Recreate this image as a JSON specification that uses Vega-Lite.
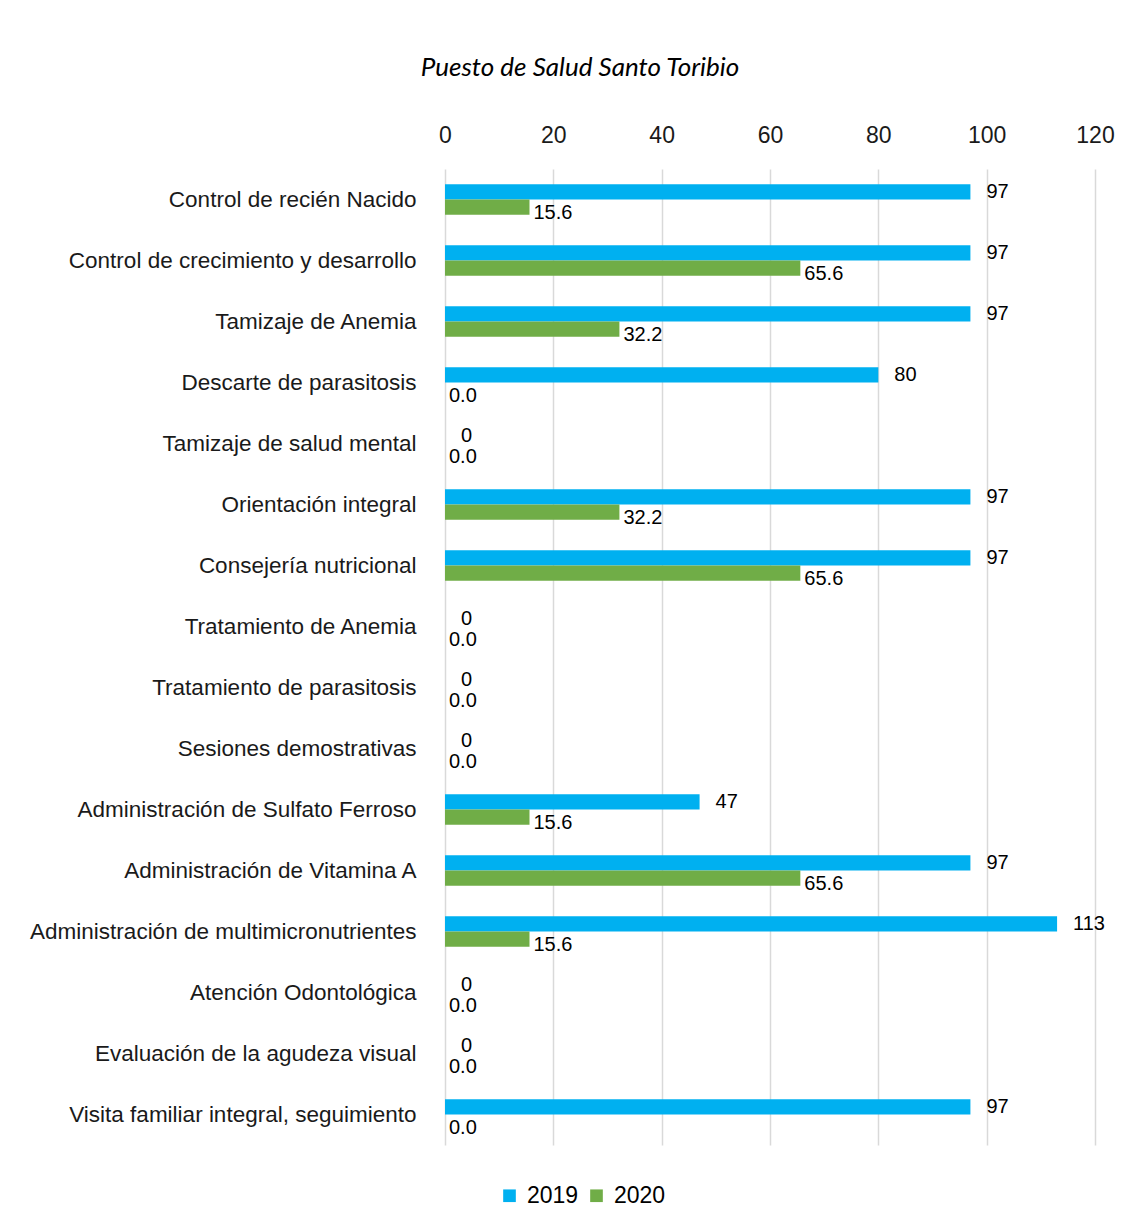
{
  "$schema": "https://vega.github.io/schema/vega-lite/v6.json",
  "autosize": {"type": "none"},
  "width": 650,
  "height": 976,
  "padding": {"left": 445, "top": 169, "right": 32, "bottom": 82},
  "background": "white",
  "title": {
    "text": "Puesto de Salud Santo Toribio",
    "font": "Lato",
    "fontStyle": "italic",
    "fontWeight": "normal",
    "fontSize": 26,
    "color": "#000000",
    "anchor": "middle",
    "dx": -190,
    "offset": 43
  },
  "datasets": {
    "rows": [
      {"actividad": "Control de recién Nacido", "year": "2019", "value": 97},
      {"actividad": "Control de recién Nacido", "year": "2020", "value": 15.6},
      {"actividad": "Control de crecimiento y desarrollo", "year": "2019", "value": 97},
      {"actividad": "Control de crecimiento y desarrollo", "year": "2020", "value": 65.6},
      {"actividad": "Tamizaje de Anemia", "year": "2019", "value": 97},
      {"actividad": "Tamizaje de Anemia", "year": "2020", "value": 32.2},
      {"actividad": "Descarte de parasitosis", "year": "2019", "value": 80},
      {"actividad": "Descarte de parasitosis", "year": "2020", "value": 0},
      {"actividad": "Tamizaje de salud mental", "year": "2019", "value": 0},
      {"actividad": "Tamizaje de salud mental", "year": "2020", "value": 0},
      {"actividad": "Orientación integral", "year": "2019", "value": 97},
      {"actividad": "Orientación integral", "year": "2020", "value": 32.2},
      {"actividad": "Consejería nutricional", "year": "2019", "value": 97},
      {"actividad": "Consejería nutricional", "year": "2020", "value": 65.6},
      {"actividad": "Tratamiento de Anemia", "year": "2019", "value": 0},
      {"actividad": "Tratamiento de Anemia", "year": "2020", "value": 0},
      {"actividad": "Tratamiento de parasitosis", "year": "2019", "value": 0},
      {"actividad": "Tratamiento de parasitosis", "year": "2020", "value": 0},
      {"actividad": "Sesiones demostrativas", "year": "2019", "value": 0},
      {"actividad": "Sesiones demostrativas", "year": "2020", "value": 0},
      {"actividad": "Administración de Sulfato Ferroso", "year": "2019", "value": 47},
      {"actividad": "Administración de Sulfato Ferroso", "year": "2020", "value": 15.6},
      {"actividad": "Administración de Vitamina A", "year": "2019", "value": 97},
      {"actividad": "Administración de Vitamina A", "year": "2020", "value": 65.6},
      {"actividad": "Administración de multimicronutrientes", "year": "2019", "value": 113},
      {"actividad": "Administración de multimicronutrientes", "year": "2020", "value": 15.6},
      {"actividad": "Atención Odontológica", "year": "2019", "value": 0},
      {"actividad": "Atención Odontológica", "year": "2020", "value": 0},
      {"actividad": "Evaluación de la agudeza visual", "year": "2019", "value": 0},
      {"actividad": "Evaluación de la agudeza visual", "year": "2020", "value": 0},
      {"actividad": "Visita familiar integral, seguimiento", "year": "2019", "value": 97},
      {"actividad": "Visita familiar integral, seguimiento", "year": "2020", "value": 0}
    ]
  },
  "data": {"name": "rows"},
  "encoding": {
    "y": {
      "field": "actividad",
      "type": "nominal",
      "sort": null,
      "scale": {"paddingInner": 0.5, "paddingOuter": 0.25},
      "axis": {
        "title": null,
        "domain": false,
        "ticks": false,
        "labelPadding": 29,
        "labelFont": "Liberation Sans",
        "labelFontSize": 22.5,
        "labelColor": "#1a1a1a",
        "labelLimit": 500
      }
    },
    "yOffset": {"field": "year", "type": "nominal", "scale": {"paddingInner": 0, "paddingOuter": 0}},
    "x": {
      "field": "value",
      "type": "quantitative",
      "scale": {"domain": [0, 120], "nice": false},
      "axis": {
        "orient": "top",
        "title": null,
        "values": [0, 20, 40, 60, 80, 100, 120],
        "domain": false,
        "ticks": false,
        "labelFlush": false,
        "labelPadding": 22,
        "labelFont": "Liberation Sans",
        "labelFontSize": 23,
        "labelColor": "#1a1a1a",
        "gridColor": "#d9d9d9",
        "gridWidth": 1.5
      }
    }
  },
  "layer": [
    {
      "mark": {"type": "bar"},
      "encoding": {
        "color": {
          "field": "year",
          "type": "nominal",
          "scale": {"domain": ["2019", "2020"], "range": ["#00B0F0", "#70AD47"]},
          "legend": {
            "title": null,
            "orient": "none",
            "direction": "horizontal",
            "legendX": 53,
            "legendY": 1015,
            "symbolType": "square",
            "symbolSize": 160,
            "symbolStrokeWidth": 0,
            "labelFont": "Liberation Sans",
            "labelFontSize": 23,
            "labelColor": "#000000",
            "columnPadding": 6,
            "labelOffset": 6
          }
        }
      }
    },
    {
      "transform": [{"filter": "datum.year == '2019'"}],
      "mark": {"type": "text", "align": "left", "baseline": "middle", "dx": 16, "font": "Liberation Sans", "fontSize": 20, "color": "#000000"},
      "encoding": {"text": {"field": "value", "type": "quantitative", "format": "d"}}
    },
    {
      "transform": [{"filter": "datum.year == '2020'"}],
      "mark": {"type": "text", "align": "left", "baseline": "middle", "dx": 4, "dy": 6, "font": "Liberation Sans", "fontSize": 20, "color": "#000000"},
      "encoding": {"text": {"field": "value", "type": "quantitative", "format": ".1f"}}
    }
  ],
  "config": {"view": {"stroke": null}}
}
